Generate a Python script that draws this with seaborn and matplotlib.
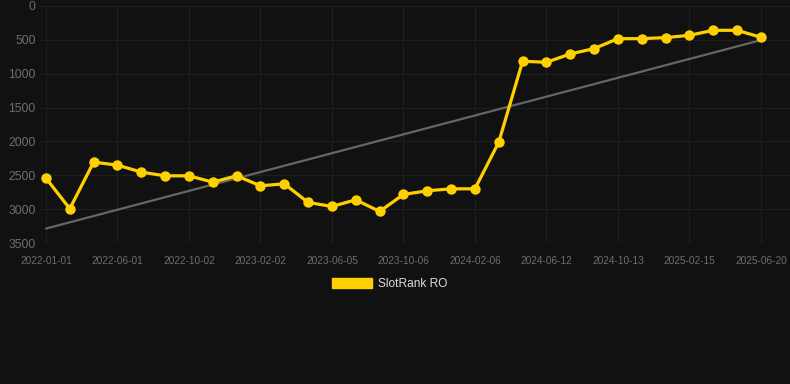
import numpy as np
import pandas as pd
import matplotlib
matplotlib.use("Agg")
import matplotlib.pyplot as plt
import seaborn as sns
from matplotlib.patches import Patch

# dates (only every third is labelled on the chart, others estimated)
dates = [
    "2022-01-01", "2022-02-20", "2022-04-11", "2022-06-01", "2022-07-12", "2022-08-22",
    "2022-10-02", "2022-11-13", "2022-12-24", "2023-02-02", "2023-03-16", "2023-04-25",
    "2023-06-05", "2023-07-16", "2023-08-26", "2023-10-06", "2023-11-16", "2023-12-27",
    "2024-02-06", "2024-03-19", "2024-05-01", "2024-06-12", "2024-07-23", "2024-09-02",
    "2024-10-13", "2024-11-25", "2025-01-05", "2025-02-15", "2025-03-30", "2025-05-09",
    "2025-06-20",
]
ranks = [
    2542, 2994, 2306, 2350, 2453, 2508, 2508, 2601, 2508, 2655, 2626, 2901,
    2960, 2862, 3034, 2783, 2729, 2700, 2700, 2011, 816, 831, 708, 629,
    482, 482, 467, 433, 359, 359, 462,
]
series_name = "SlotRank RO"
y_ticks = [0, 500, 1000, 1500, 2000, 2500, 3000, 3500]

bg = "#111111"
gold = "#FFD000"

sns.set_theme(style="dark")
plt.rcParams["font.family"] = ["Liberation Sans", "DejaVu Sans"]

df = pd.DataFrame({"date": dates, "rank": ranks, "idx": np.arange(len(dates))})

fig = plt.figure(figsize=(7.9, 3.84), dpi=100, facecolor=bg)
ax = fig.add_axes([40 / 790, 1 - 243 / 384, 750 / 790, 237 / 384])
ax.set_facecolor(bg)

# trend line
sns.regplot(data=df, x="idx", y="rank", scatter=False, ci=None, truncate=True,
            line_kws={"color": "#666666", "lw": 1.6}, ax=ax)

sns.lineplot(data=df, x="idx", y="rank", color=gold, lw=2.3, marker="o",
             markersize=7.5, markeredgewidth=0, ax=ax)

ax.set_ylim(3500, 0)
ax.set_xlim(-0.25, 31.22)
ax.set_yticks(y_ticks)
ax.set_yticklabels([str(v) for v in y_ticks])
tick_pos = list(range(0, len(dates), 3))
ax.set_xticks(tick_pos)
ax.set_xticklabels([dates[i] for i in tick_pos])
ax.tick_params(axis="y", labelsize=8.8, colors="#6e6e6e", length=0, pad=3)
ax.tick_params(axis="x", labelsize=7.3, colors="#6e6e6e", length=0, pad=9)
ax.grid(True, color="#1e1e1e", lw=0.9)
ax.set_xlabel("")
ax.set_ylabel("")
for s in ax.spines.values():
    s.set_visible(False)

fig.legend(handles=[Patch(color=gold, label=series_name)], loc="center",
           bbox_to_anchor=(389.5 / 790, 1 - 284 / 384), frameon=False, fontsize=8.6,
           labelcolor="#dddddd", handlelength=3.4, handleheight=1.0,
           handletextpad=0.5)

fig.savefig("out.png", dpi=100, facecolor=bg)
